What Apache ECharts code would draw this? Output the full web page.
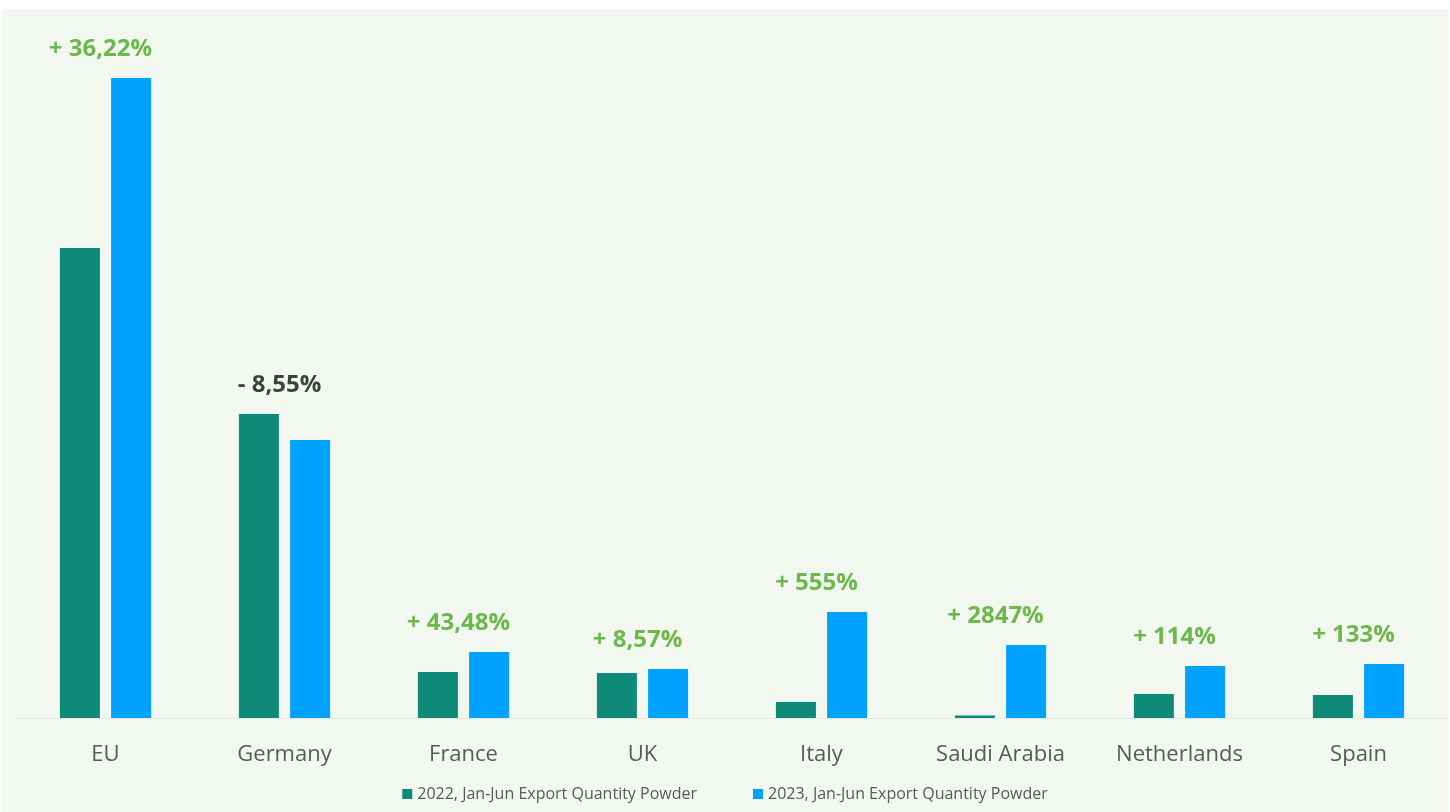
<!DOCTYPE html>
<html>
<head>
<meta charset="utf-8">
<script src="https://cdn.jsdelivr.net/npm/echarts@6/dist/echarts.min.js"></script>
<style>
html,body{margin:0;padding:0;background:#ffffff;width:1450px;height:812px;overflow:hidden;}
#chart{position:absolute;left:2px;top:9px;width:1446px;height:803px;}
</style>
</head>
<body>
<div id="chart"></div>
<script>
const categories = ['EU', 'Germany', 'France', 'UK', 'Italy', 'Saudi Arabia', 'Netherlands', 'Spain'];
const exports2022 = [470, 304, 46, 45, 16, 2.5, 24, 23];
const exports2023 = [640, 278, 66, 49, 106, 73, 52, 54];
const changeLabels = ['+ 36,22%', '- 8,55%', '+ 43,48%', '+ 8,57%', '+ 555%', '+ 2847%', '+ 114%', '+ 133%'];
const seriesNames = ['2022, Jan-Jun Export Quantity Powder', '2023, Jan-Jun Export Quantity Powder'];

const labelPoints = categories.map((c, i) => ({
  value: [c, Math.max(exports2022[i], exports2023[i])],
  label: { color: changeLabels[i].startsWith('-') ? '#111111' : '#4aa822' }
}));

const chart = echarts.init(document.getElementById('chart'));
chart.setOption({
  backgroundColor: '#f2f8ef',
  animation: false,
  textStyle: { fontFamily: 'Open Sans' },
  grid: { left: 14, right: 0, top: 9, bottom: 94, containLabel: false },
  legend: {
    data: seriesNames,
    bottom: 5,
    left: 'center',
    itemWidth: 10,
    itemHeight: 10,
    itemGap: 56,
    icon: 'rect',
    textStyle: { color: '#595959', fontSize: 16, fontFamily: 'Open Sans' }
  },
  xAxis: {
    type: 'category',
    data: categories,
    axisLine: { show: true, lineStyle: { color: '#e3eadf', width: 1 } },
    axisTick: { show: false },
    axisLabel: { color: '#595959', fontSize: 22, margin: 26, fontFamily: 'Open Sans' }
  },
  yAxis: {
    type: 'value',
    min: 0,
    max: 700,
    show: false,
    splitLine: { show: false }
  },
  series: [
    {
      name: seriesNames[0],
      type: 'bar',
      data: exports2022,
      barWidth: 40,
      barGap: '28%',
      itemStyle: { color: '#0e8a78' }
    },
    {
      name: seriesNames[1],
      type: 'bar',
      data: exports2023,
      barWidth: 40,
      itemStyle: { color: '#00a2ff' }
    },
    {
      name: 'change',
      type: 'scatter',
      data: labelPoints,
      symbolSize: 0,
      silent: true,
      label: {
        show: true,
        position: 'top',
        distance: 17,
        offset: [-5, 0],
        fontSize: 24,
        fontWeight: 'bold',
        fontFamily: 'Open Sans',
        formatter: p => changeLabels[p.dataIndex]
      }
    }
  ]
});
</script>
</body>
</html>
